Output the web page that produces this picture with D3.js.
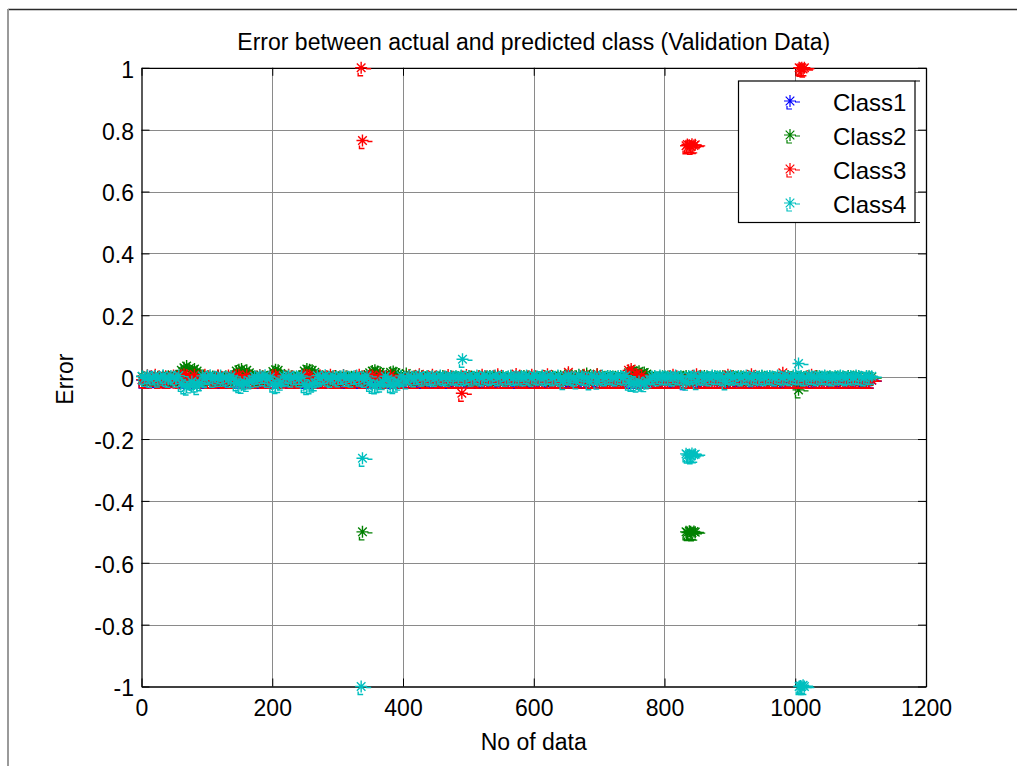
<!DOCTYPE html>
<html>
<head>
<meta charset="utf-8">
<script src="https://cdn.jsdelivr.net/npm/d3@7"></script>
<style>
  html, body { margin: 0; padding: 0; background: #fff; }
  svg { display: block; font-family: "Liberation Sans", Arial, Helvetica, sans-serif; }
</style>
</head>
<body>
<svg id="chart" width="1017" height="766"></svg>
<script>
// ---- data -------------------------------------------------------------
// Errors are stored in thousandths (1000 = error of 1.0).
// The near-zero band is sampled every 4 records, starting at record 1.
const bandStart = 1;
const bandStep = 4;

const class1Band = [
  -9,-6,-10,2,-8,-4,-10,-7,1,-9,-10,-5,-8,3,-10,-9,-6,-10,-8,-4,
  -10,-7,-9,-10,-3,-8,-10,-6,-9,2,-10,-8,-5,-10,-9,-7,-10,-4,-9,-10,
  -6,-10,-8,-9,-3,-10,-7,-10,-8,1,-10,-9,-6,-10,-8,-5,-10,-9,-7,-10,
  -8,-10,-5,-9,-10,-7,-3,-10,-8,-9,-10,-6,-8,-10,2,-9,-7,-10,-8,-5,
  -10,-9,-6,-10,-8,-7,-10,-4,-9,-10,-8,-6,-10,-9,-3,-10,-8,-7,-10,-9,
  -5,-10,-8,-9,-10,-6,-8,-10,-7,-4,-10,-9,-8,-10,-6,-9,-10,-8,-5,-10,
  -9,-7,-10,-8,-6,-10,-9,-3,-10,-8,-7,-10,-9,-6,-10,-8,-4,-10,-9,-7,
  -10,-8,-6,-10,-9,-7,-10,-5,-8,-10,-9,-6,-10,-8,-7,-10,-4,-9,-10,-8,
  -7,-10,-9,-5,-10,-8,-10,-6,-9,-10,-7,-8,-10,-4,-9,-10,-8,-6,-10,-9,
  -10,-6,-9,-10,-8,-7,-10,-9,-5,-10,-8,-10,-6,-9,-10,-7,-8,-10,-4,-9,
  -8,-10,-7,-9,-10,-6,-8,-14,-10,-9,-7,-10,-8,-5,-10,-9,-6,-10,-8,-10,
  -9,-7,-10,-8,-6,-10,-9,-4,-10,-8,-7,-10,-9,-5,-10,-8,-6,-10,-9,-7,
  -10,-8,-5,-10,-9,-7,-10,-6,-8,-10,-9,-4,-10,-8,-7,-10,-9,-6,-10,-8,
  -7,-10,-9,-6,-10,-8,-5,-10,-9,-7,-10,-8,-6,-10,-9,-4,-10,-8,-7,-10
];

const class2Band = [
  2,-1,3,0,-2,4,1,-3,2,0,3,-1,2,1,-2,22,30,36,28,18,
  26,20,8,1,-2,3,0,2,-1,4,0,-2,3,1,-1,2,20,24,26,16,
  22,14,4,-1,2,0,3,-2,1,4,18,24,22,12,0,2,-1,3,1,-2,
  2,0,20,26,24,22,16,1,-1,3,0,2,-2,1,4,0,-1,2,3,0,
  1,-2,3,0,2,4,-1,14,20,22,18,16,10,1,0,16,18,14,10,2,
  0,12,2,-1,3,0,1,4,-2,2,0,3,1,-1,2,4,0,-2,3,1,
  2,0,3,1,-1,4,2,0,-2,3,1,0,2,4,-1,1,3,0,2,-1,
  1,3,0,2,-2,1,4,0,2,-1,3,1,0,2,4,-1,1,3,0,2,
  3,0,2,10,1,-1,3,8,0,2,12,1,0,3,9,2,-1,1,4,0,
  2,1,-1,3,0,2,14,18,20,16,19,12,15,10,3,0,2,-1,1,3,
  0,2,1,-1,3,0,2,1,4,0,-2,3,1,2,0,4,1,-1,2,3,
  1,0,3,2,-1,1,4,0,2,3,0,-1,2,1,3,0,2,4,1,0,
  2,1,0,3,-1,2,1,4,0,2,3,-1,1,0,2,3,1,0,4,2,
  0,3,1,2,-1,0,2,3,1,-1,4,0,2,1,3,0,-2,1,2,0
];

const class3Band = [
  -8,-10,6,-9,-4,8,-10,-6,-9,3,-10,-7,5,-9,-10,6,9,7,-6,-8,
  8,-9,-10,-6,8,-10,-9,-4,-10,6,-8,-10,-9,5,-10,-7,7,8,-8,-10,
  6,-9,-6,-10,-8,7,-10,-9,-5,-10,6,7,-8,-10,-6,-9,8,-10,-7,-9,
  -10,-6,8,7,6,-8,-10,-9,6,-10,-7,-9,8,-10,-6,-10,-9,7,-8,-10,
  -9,-10,-6,8,-10,-9,-7,6,5,-8,-10,7,-9,-10,-6,6,-8,-10,-9,-7,
  -10,-9,6,-10,-8,-10,9,-7,-10,-9,-10,8,-10,-6,-9,-10,-8,7,-10,-9,
  -10,-8,-10,-9,7,-10,-10,-6,-9,-10,8,-10,-9,-10,-7,-10,9,-10,-8,-10,
  -9,-10,-8,10,-10,-9,-10,-7,-10,8,-10,-9,-10,-8,-10,9,-10,-6,-10,-9,
  -10,-8,-10,16,-9,-10,-7,-10,-9,8,-10,-10,-8,-10,9,-10,-9,-10,-7,-10,
  -9,-10,-8,-10,-6,-10,22,26,-8,10,-10,6,-9,-10,-8,-10,-9,-10,-7,-10,
  -10,-9,-10,8,-10,-7,-10,-10,-9,-10,-8,-10,9,-10,-9,-10,-7,-10,-8,-10,
  -9,-10,-7,-10,8,-10,-9,-10,-10,-6,-10,-9,-10,9,-10,-8,-10,-9,-10,-7,
  -10,-8,-10,-9,-10,14,-10,-7,-10,-9,-8,-10,-10,-9,-7,-10,8,-10,-9,-10,
  -8,-10,-9,-10,-7,-10,-9,-8,-10,-10,-9,-7,-10,-8,-10,-9,-10,-8,-10,-9
];

const class4Band = [
  3,-4,5,-7,1,4,-6,0,6,-3,-7,4,1,-6,5,-20,-28,-32,-25,-14,
  -22,-30,-18,4,-6,2,6,-7,1,-4,5,-3,0,-7,4,-6,-18,-24,-26,-15,
  -20,-12,-8,3,-5,5,-2,6,-7,0,-22,-27,-24,-16,4,-3,5,-6,1,3,
  -5,4,-24,-30,-28,-22,-18,5,-4,1,6,-3,-7,4,0,-5,3,6,-4,1,
  -6,3,5,-3,0,-7,4,-20,-26,-28,-24,-22,-14,3,-5,-24,-27,-22,-16,4,
  -3,-12,4,1,-5,2,5,-3,0,4,-2,3,-4,1,5,-1,2,-3,4,0,
  3,-2,5,-1,2,4,-3,1,5,0,-2,4,2,-1,3,5,-2,1,4,-3,
  2,5,-1,3,0,4,-2,5,1,-3,4,2,0,5,-1,3,4,-2,1,5,
  -3,-14,2,4,1,-2,-12,5,3,0,-1,-15,4,2,-13,1,5,-2,3,4,
  1,-2,4,3,0,5,-16,-20,-18,-22,-14,-19,-21,-12,-8,2,4,-2,5,1,
  3,0,4,-2,5,1,3,-13,-16,4,2,5,-14,1,3,0,4,-2,5,3,
  2,4,-1,-15,3,5,0,2,4,-2,3,5,1,-3,4,2,0,5,-1,3,
  4,1,-2,5,3,0,4,2,-1,5,3,1,4,-2,0,5,3,2,-1,4,
  2,5,0,3,-2,4,1,5,3,-1,2,4,0,5,3,1,-2,4,2,3
];

// Misclassified records: [record number, error in thousandths]
const class1Outliers = [];
const class2Outliers = [
  [338,-500],[833,-500],[835,-502],[838,-498],[840,-500],[842,-503],[845,-499],[847,-501],[1005,-41]
];
const class3Outliers = [
  [336,1000],[338,765],[490,-52],
  [833,748],[835,752],[838,750],[840,746],[842,753],[845,749],[847,751],
  [1006,1000],[1008,998],[1010,1000],[1012,996],[1014,1000]
];
const class4Outliers = [
  [336,-1000],[338,-262],[491,58],
  [833,-248],[835,-252],[838,-250],[840,-254],[842,-247],[845,-251],[847,-249],
  [1005,44],[1006,-1000],[1008,-998],[1010,-1000],[1012,-996],[1014,-1000]
];

const classNames  = ["Class1", "Class2", "Class3", "Class4"];
const classColors = ["#0000ff", "#008000", "#ff0000", "#00bfbf"];

const xTicks = [0, 200, 400, 600, 800, 1000, 1200];
const yTicks = [-1, -0.8, -0.6, -0.4, -0.2, 0, 0.2, 0.4, 0.6, 0.8, 1];
const yTickLabels = ["-1", "-0.8", "-0.6", "-0.4", "-0.2", "0", "0.2", "0.4", "0.6", "0.8", "1"];

const titleText  = "Error between actual and predicted class (Validation Data)";
const xLabelText = "No of data";
const yLabelText = "Error";

// ---- layout -----------------------------------------------------------
const plot = { left: 141.5, right: 926, top: 67.8, bottom: 686.5 };
const fontSize = 23;
const tickLen = 8;

const svg = d3.select("#chart");

const x = d3.scaleLinear().domain([0, 1200]).range([plot.left, plot.right]);
const y = d3.scaleLinear().domain([-1, 1]).range([plot.bottom, plot.top]);

// figure frame
svg.append("line").attr("x1", 8).attr("x2", 1017).attr("y1", 9.5).attr("y2", 9.5)
  .attr("stroke", "#2a2a2a").attr("stroke-width", 1.3);
svg.append("line").attr("x1", 8).attr("x2", 8).attr("y1", 9).attr("y2", 766)
  .attr("stroke", "#9a9a9a").attr("stroke-width", 2);

// grid
const grid = svg.append("g").attr("stroke", "#8a8a8a").attr("stroke-width", 1);
grid.selectAll("line.gx").data(xTicks.slice(1, -1)).join("line")
  .attr("class", "gx")
  .attr("x1", d => Math.round(x(d)) + 0.5).attr("x2", d => Math.round(x(d)) + 0.5)
  .attr("y1", plot.top).attr("y2", plot.bottom);
grid.selectAll("line.gy").data(yTicks.slice(1, -1)).join("line")
  .attr("class", "gy")
  .attr("y1", d => Math.round(y(d)) + 0.5).attr("y2", d => Math.round(y(d)) + 0.5)
  .attr("x1", plot.left).attr("x2", plot.right);

// axes (ticks point inward, box on all four sides)
function styleAxis(g) {
  g.selectAll("path.domain").attr("stroke", "#000").attr("stroke-width", 1.3);
  g.selectAll(".tick line").attr("stroke", "#000").attr("stroke-width", 1);
  g.selectAll("text").attr("fill", "#000").attr("font-size", fontSize)
    .attr("font-family", "Liberation Sans, Arial, sans-serif");
}

const xAxisBottom = d3.axisBottom(x).tickValues(xTicks).tickFormat(d3.format("d"))
  .tickSizeInner(-tickLen).tickSizeOuter(0).tickPadding(13.5);
svg.append("g").attr("transform", `translate(0,${plot.bottom})`).call(xAxisBottom).call(styleAxis)
  .attr("font-size", null);

const xAxisTop = d3.axisTop(x).tickValues(xTicks).tickFormat("")
  .tickSizeInner(-tickLen).tickSizeOuter(0);
svg.append("g").attr("transform", `translate(0,${plot.top})`).call(xAxisTop).call(styleAxis);

const yAxisLeft = d3.axisLeft(y).tickValues(yTicks).tickFormat((d, i) => yTickLabels[i])
  .tickSizeInner(-tickLen).tickSizeOuter(0).tickPadding(7.5);
const yl = svg.append("g").attr("transform", `translate(${plot.left},0)`).call(yAxisLeft).call(styleAxis);
yl.selectAll("text").attr("dy", "0.41em");

const yAxisRight = d3.axisRight(y).tickValues(yTicks).tickFormat("")
  .tickSizeInner(-tickLen).tickSizeOuter(0);
svg.append("g").attr("transform", `translate(${plot.right},0)`).call(yAxisRight).call(styleAxis);

// labels
svg.append("text").attr("x", (plot.left + plot.right) / 2).attr("y", 50)
  .attr("text-anchor", "middle").attr("font-size", fontSize).text(titleText);
svg.append("text").attr("x", (plot.left + plot.right) / 2).attr("y", 750)
  .attr("text-anchor", "middle").attr("font-size", fontSize).text(xLabelText);
svg.append("text").attr("transform", `translate(73,${(plot.top + plot.bottom) / 2 + 2}) rotate(-90)`)
  .attr("text-anchor", "middle").attr("font-size", fontSize).text(yLabelText);

// ---- data markers -----------------------------------------------------
// '*' marker with the short trailing strokes of the original renderer
const starPath = "M-6,0H6M0,-6V6M-4.3,-4.3L4.3,4.3M-4.3,4.3L4.3,-4.3M5,1H10M-3,5V8H2";

const bands = [class1Band, class2Band, class3Band, class4Band];
const outliers = [class1Outliers, class2Outliers, class3Outliers, class4Outliers];

const series = classNames.map((name, k) => ({
  name,
  color: classColors[k],
  points: bands[k].map((v, i) => ({ rec: bandStart + i * bandStep, err: v / 1000 }))
    .concat(outliers[k].map(([rec, v]) => ({ rec, err: v / 1000 })))
}));

const marks = svg.append("g").attr("fill", "none");
series.forEach(s => {
  marks.append("g").attr("stroke", s.color).attr("stroke-width", 1.4)
    .selectAll("path").data(s.points).join("path")
    .attr("d", starPath)
    .attr("transform", d => `translate(${x(d.rec)},${y(d.err)})`);
});

// ---- legend -----------------------------------------------------------
const legendBox = { x: 738.5, y: 81, w: 176.5, h: 141.5 };
const legend = svg.append("g");
legend.append("rect").attr("x", legendBox.x).attr("y", legendBox.y)
  .attr("width", legendBox.w).attr("height", legendBox.h)
  .attr("fill", "#fff").attr("stroke", "#000").attr("stroke-width", 1.2);
legend.append("line").attr("x1", legendBox.x + legendBox.w).attr("x2", legendBox.x + legendBox.w + 5)
  .attr("y1", legendBox.y).attr("y2", legendBox.y).attr("stroke", "#000");
legend.append("line").attr("x1", legendBox.x + legendBox.w).attr("x2", legendBox.x + legendBox.w + 5)
  .attr("y1", legendBox.y + legendBox.h).attr("y2", legendBox.y + legendBox.h).attr("stroke", "#000");

const legendRow = d3.scalePoint().domain(classNames).range([101, 203]);
const entries = legend.selectAll("g.entry").data(series).join("g")
  .attr("class", "entry")
  .attr("transform", d => `translate(0,${legendRow(d.name)})`);
entries.append("path").attr("d", starPath).attr("transform", "translate(790,0)")
  .attr("fill", "none").attr("stroke", d => d.color).attr("stroke-width", 1.2);
entries.append("text").attr("x", 833).attr("y", 10).attr("font-size", fontSize + 1)
  .text(d => d.name);
</script>
</body>
</html>
